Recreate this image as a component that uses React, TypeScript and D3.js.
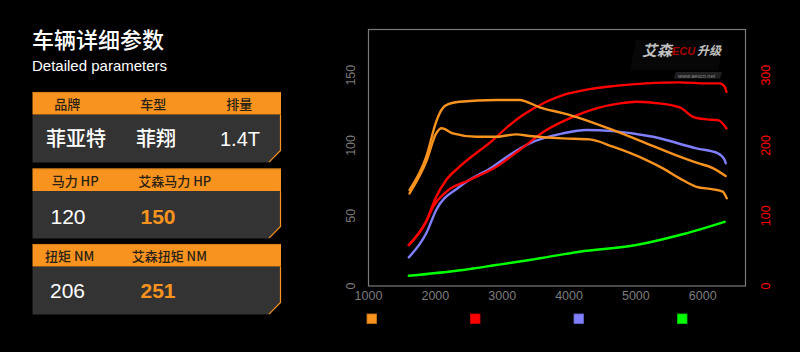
import React from "react";
import * as d3 from "d3";

// ---------- data ----------
const rpmTicks = [1000, 2000, 3000, 4000, 5000, 6000];
const leftTicks = [0, 50, 100, 150];
const rightTicks = [0, 100, 200, 300];

// power (left axis, HP)
const powerTuned: [number, number][] = [
  [1614, 68.3], [1864, 92.0], [2013, 117.0], [2063, 122.8], [2163, 128.7], [2362, 131.1],
  [2912, 132.3], [3261, 132.3], [3361, 131.1], [3561, 127.1], [3904, 123.0], [4159, 119.5],
  [4653, 111.0], [5157, 101.5], [5656, 92.0], [5906, 87.7], [6150, 83.9], [6344, 78.2],
];
const powerStock: [number, number][] = [
  [1614, 65.9], [1864, 88.5], [2013, 108.6], [2093, 112.2], [2262, 108.6], [2612, 106.2],
  [2912, 106.2], [3211, 107.9], [3410, 106.7], [3909, 105.0], [4308, 104.3], [4657, 99.1],
  [5157, 89.6], [5406, 83.7], [5656, 76.6], [5906, 70.6], [6154, 68.8], [6299, 67.1], [6359, 62.4],
];
// torque (right axis, NM)
const torqueTuned: [number, number][] = [
  [1603, 58.3], [1864, 92.0], [2013, 127.0], [2163, 150.8], [2362, 169.7], [2861, 207.7],
  [3111, 229.0], [3310, 243.2], [3660, 262.2], [3909, 271.7], [4308, 280.2], [4657, 284.5],
  [5157, 288.3], [5656, 289.8], [6055, 288.3], [6254, 288.3], [6329, 283.5], [6355, 276.4],
];
const torqueStock: [number, number][] = [
  [1603, 58.3], [1864, 92.0], [1963, 112.0], [2163, 134.1], [2512, 150.8], [2912, 169.7],
  [3261, 193.5], [3660, 221.9], [4059, 240.8], [4408, 252.8], [4758, 259.9], [5007, 262.2],
  [5256, 260.7], [5656, 254.2], [5855, 240.8], [6055, 237.1], [6229, 236.1], [6355, 224.3],
];
// other series (left axis)
const purpleSeries: [number, number][] = [
  [1603, 20.4], [1864, 37.5], [2013, 54.1], [2362, 70.6], [2861, 84.9], [3111, 93.2],
  [3410, 101.5], [3909, 108.6], [4259, 111.0], [4657, 110.2], [5256, 106.2], [5906, 97.9],
  [6229, 94.4], [6329, 89.6], [6344, 87.3],
];
const greenSeries: [number, number][] = [
  [1603, 7.3], [2412, 11.4], [2912, 14.9], [3410, 18.5], [4159, 24.4], [5007, 29.2],
  [5656, 36.3], [6329, 45.7],
];

const legendColors = ["#f7931e", "#ff0000", "#8080ff", "#00ff00"];

const brandHeaders = ["品牌", "车型", "排量"];
const brandValues = ["菲亚特", "菲翔", "1.4T"];
const hpHeaders = ["马力 HP", "艾森马力 HP"];
const hpValues = ["120", "150"];
const nmHeaders = ["扭矩 NM", "艾森扭矩 NM"];
const nmValues = ["206", "251"];

// ---------- layout ----------
const W = 800, H = 352;
const plot = { x0: 368.5, x1: 745.5, y0: 29.5, y1: 286 };
const ORANGE = "#f7931e";
const CJK = "'Noto Sans CJK SC', 'Liberation Sans', sans-serif";
const LAT = "'Liberation Sans', Arial, sans-serif";

const x = d3.scaleLinear().domain([1000, 6640]).range([plot.x0, plot.x1]);
const yL = d3.scaleLinear().domain([0, 182.5]).range([plot.y1, plot.y0]);
const yR = d3.scaleLinear().domain([0, 365]).range([plot.y1, plot.y0]);

const lineL = d3.line<[number, number]>().x(d => x(d[0])).y(d => yL(d[1])).curve(d3.curveMonotoneX);
const lineR = d3.line<[number, number]>().x(d => x(d[0])).y(d => yR(d[1])).curve(d3.curveMonotoneX);

function Card({ top, headH, bodyH, children }: { top: number; headH: number; bodyH: number; children?: React.ReactNode }) {
  const l = 32.5, r = 281, c = 12;
  const b = top + headH + bodyH;
  const bodyPath = `M${l},${top + headH} L${r},${top + headH} L${r},${b - c} L${r - c},${b} L${l},${b} Z`;
  return (
    <g>
      <path d={bodyPath} fill="#333333" />
      <polyline points={`${r - 0.5},${top + headH} ${r - 0.5},${b - c} ${r - c},${b - 0.3}`} fill="none" stroke={ORANGE} strokeWidth={1.2} />
      <rect x={l} y={top} width={r - l} height={headH} fill={ORANGE} />
      <line x1={l} x2={r} y1={top + 0.4} y2={top + 0.4} stroke="#c8761a" strokeWidth={0.8} />
      {children}
    </g>
  );
}

export default function App() {
  return (
    <svg width={W} height={H} style={{ position: "absolute", left: 0, top: 0, background: "#000" }}>
      <rect x={0} y={0} width={W} height={H} fill="#000" />
      {/* titles */}
      <text x={32} y={48} fill="#fff" fontFamily={CJK} fontSize={22} fontWeight={500}>车辆详细参数</text>
      <text x={32} y={71} fill="#fff" fontFamily={LAT} fontSize={15}>Detailed parameters</text>

      {/* card 1 */}
      <Card top={92} headH={22.5} bodyH={48}>
        {brandHeaders.map((t, i) => (
          <text key={t} x={[67.3, 153.3, 239.3][i]} y={108.8} textAnchor="middle" fill="#2a2216" fontFamily={CJK} fontSize={13} fontWeight={500}>{t}</text>
        ))}
        {brandValues.map((t, i) => (
          <text key={t} x={[76, 156, 240][i]} y={145.5} textAnchor="middle" fill="#fff" fontFamily={i === 2 ? LAT : CJK} fontSize={20} fontWeight={i === 2 ? 400 : 500}>{t}</text>
        ))}
      </Card>

      {/* card 2 */}
      <Card top={168.5} headH={22.5} bodyH={47.5}>
        {hpHeaders.map((t, i) => (
          <text key={t} x={[51.7, 138.3][i]} y={185.5} fill="#2a2216" fontFamily={CJK} fontSize={13} fontWeight={500}>{t}</text>
        ))}
        {hpValues.map((t, i) => (
          <text key={t} x={[50.5, 140.5][i]} y={224} fill={i === 0 ? "#fff" : ORANGE} fontFamily={LAT} fontWeight={i === 0 ? 400 : 700} fontSize={21}>{t}</text>
        ))}
      </Card>

      {/* card 3 */}
      <Card top={244} headH={22.5} bodyH={48}>
        {nmHeaders.map((t, i) => (
          <text key={t} x={[45, 131.7][i]} y={261} fill="#2a2216" fontFamily={CJK} fontSize={13} fontWeight={500}>{t}</text>
        ))}
        {nmValues.map((t, i) => (
          <text key={t} x={[50, 140.5][i]} y={297.5} fill={i === 0 ? "#fff" : ORANGE} fontFamily={LAT} fontWeight={i === 0 ? 400 : 700} fontSize={21}>{t}</text>
        ))}
      </Card>

      {/* chart frame */}
      <rect x={plot.x0} y={plot.y0} width={plot.x1 - plot.x0} height={plot.y1 - plot.y0} fill="none" stroke="#7a7a7a" strokeWidth={1.2} />

      {/* watermark logo */}
      <g>
        <path d="M636,40 L724,40 L718,70 L630,70 Z" fill="#070707" />
        <text x={642} y={56} fill="#c0c0c0" fontFamily={CJK} fontSize={15} fontWeight={700} fontStyle="italic">艾森</text>
        <text x={672} y={55} fill="#a80000" fontFamily={LAT} fontSize={11} fontWeight={700} fontStyle="italic">ECU</text>
        <text x={697} y={55} fill="#c0c0c0" fontFamily={CJK} fontSize={12} fontWeight={700} fontStyle="italic">升级</text>
        <path d="M676,72 L722,72 L720,78.5 L674,78.5 Z" fill="#202020" />
        <text x={678} y={77.5} fill="#8a8a8a" fontFamily={LAT} fontSize={5.5} fontStyle="italic">www.aescn.net</text>
      </g>

      {/* x axis labels */}
      {rpmTicks.map(t => (
        <text key={t} x={x(t)} y={299.5} textAnchor="middle" fill="#7c7c7c" fontFamily={LAT} fontSize={12.5}>{t}</text>
      ))}
      {/* left axis labels */}
      {leftTicks.map(t => (
        <text key={t} transform={`translate(355,${yL(t)}) rotate(-90)`} textAnchor="middle" fill="#7c7c7c" fontFamily={LAT} fontSize={12.5}>{t}</text>
      ))}
      {/* right axis labels */}
      {rightTicks.map(t => (
        <text key={t} transform={`translate(769.5,${yR(t)}) rotate(-90)`} textAnchor="middle" fill="#ff0000" fontFamily={LAT} fontSize={12.5}>{t}</text>
      ))}

      {/* lines */}
      <g fill="none" strokeWidth={2.4} strokeLinejoin="round" strokeLinecap="round">
        <path d={lineL(greenSeries) || ""} stroke="#00ff00" />
        <path d={lineL(purpleSeries) || ""} stroke="#8080ff" />
        <path d={lineR(torqueStock) || ""} stroke="#ff0000" />
        <path d={lineR(torqueTuned) || ""} stroke="#ff0000" />
        <path d={lineL(powerStock) || ""} stroke="#f7931e" />
        <path d={lineL(powerTuned) || ""} stroke="#f7931e" />
      </g>

      {/* legend */}
      {legendColors.map((c, i) => (
        <rect key={c} x={367 + i * 103.5} y={314} width={9.5} height={9.5} fill={c} stroke={d3.color(c)!.darker(0.6).toString()} strokeWidth={0.8} />
      ))}
    </svg>
  );
}
